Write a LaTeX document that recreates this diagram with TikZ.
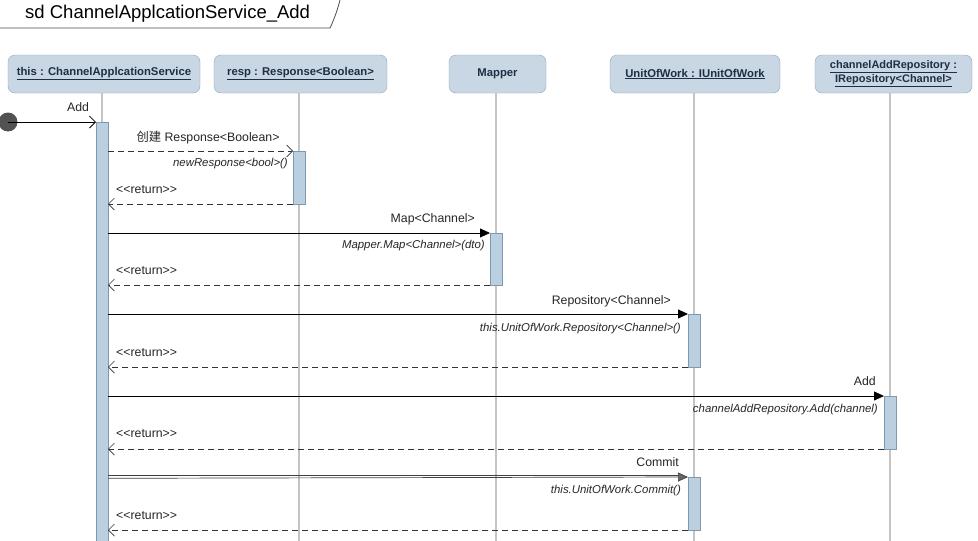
\documentclass[tikz,border=0pt]{standalone}
\usepackage{fontspec}
\setmainfont{Liberation Sans}
\newfontfamily\cjkfont{Noto Sans CJK SC}
\usetikzlibrary{arrows.meta,calc}
\definecolor{headfill}{HTML}{C8D7E3}
\definecolor{headline}{HTML}{8FA7BA}
\definecolor{headtext}{HTML}{1E2F45}
\definecolor{actfill}{HTML}{BACFE0}
\definecolor{actline}{HTML}{7E99AF}
\definecolor{lifegray}{HTML}{C4C4C4}
\tikzset{
  x=1pt,y=-1pt,
  head/.style={draw=headline,fill=headfill,rounded corners=7pt,minimum height=38pt,inner sep=2pt,align=center,font=\fontsize{11.3}{12}\selectfont\bfseries,text=headtext},
  act/.style={draw=actline,fill=actfill,minimum width=12pt,inner sep=0pt,outer sep=0pt,line width=0.8pt},
  life/.style={draw=lifegray,line width=1.2pt},
  callmsg/.style={draw=black,line width=0.8pt,-{Triangle[length=10pt,width=9pt]}},
  createmsg/.style={draw=black!80,line width=0.7pt,dash pattern=on 6pt off 4pt,-{Straight Barb[length=6pt,width=12pt]}},
  retmsg/.style={draw=black!80,line width=0.7pt,dash pattern=on 6pt off 4pt,-{Straight Barb[length=6pt,width=12pt]}},
  foundmsg/.style={draw=black,line width=0.8pt,-{Straight Barb[length=6pt,width=12pt]}},
  commitline/.style={draw=black!75,line width=0.7pt},
  lbl/.style={font=\fontsize{12.3}{13}\selectfont,inner sep=0pt,text=black!85},
  ilbl/.style={font=\fontsize{11.4}{12}\selectfont\itshape,inner sep=0pt,text=black!85},
}
\begin{document}
\begin{tikzpicture}
\useasboundingbox[fill=white] (0,0) rectangle (978,541);
% frame tab
\draw[black!70,line width=0.8pt] (0,28) -- (330,28) .. controls (334,20) and (338,8) .. (340,0);
\node[anchor=west,inner sep=0pt,font=\fontsize{18.5}{20}\selectfont] (title) at (25,14) {sd ChannelApplcationService\_Add};

% heads
\node[head,minimum width=192pt] (h1) at (104,74) {\underline{this : ChannelApplcationService}};
\node[head,minimum width=173pt] (h2) at (300.5,74) {\underline{resp : Response<Boolean>}};
\node[head,minimum width=97pt] (h3) at (497.5,74) {Mapper};
\node[head,minimum width=170pt] (h4) at (695,74) {\underline{UnitOfWork : IUnitOfWork}};
\node[head,minimum width=157pt,font=\fontsize{11}{12}\selectfont\bfseries] (h5) at (893.5,74) {\underline{channelAddRepository :}\\[1pt]\underline{IRepository<Channel>}};

% lifelines
\coordinate (e1) at (102,541);
\coordinate (e2) at (299,541);
\coordinate (e3) at (496,541);
\coordinate (e4) at (694,541);
\coordinate (e5) at (890,541);
\draw[life] (h1.south -| e1) -- (e1);
\draw[life] (h2.south -| e2) -- (e2);
\draw[life] (h3.south -| e3) -- (e3);
\draw[life] (h4.south -| e4) -- (e4);
\draw[life] (h5.south -| e5) -- (e5);

% activations
\node[act,minimum height=421pt,anchor=north] (a1) at (102,122) {};
\node[act,minimum height=53pt,anchor=north] (a2) at (299,151) {};
\node[act,minimum height=52pt,anchor=north] (a3) at (496,233) {};
\node[act,minimum height=53pt,anchor=north] (a4) at (694,314) {};
\node[act,minimum height=53pt,anchor=north] (a5) at (890,396) {};
\node[act,minimum height=53pt,anchor=north] (a6) at (694,477) {};

% found message
\node[circle,fill=black!68,minimum size=19pt,inner sep=0pt] (start) at (8,122) {};
\draw[foundmsg] (start.center) -- (a1.north west);
\node[lbl,anchor=base] (l0) at (78,111) {Add};

% create
\draw[createmsg] (a1.east |- a2.north) -- (a2.north west);
\node[lbl,anchor=base] (l1) at (208,141) {{\cjkfont 创建} Response<Boolean>};
\node[ilbl,anchor=base east] (i1) at (288,166) {newResponse<bool>()};
\draw[retmsg] (a2.south west) -- (a1.east |- a2.south);
\node[lbl,anchor=base west] (r1) at (116,193) {<{}<return>{}>};

% Map
\draw[callmsg] (a1.east |- a3.north) -- (a3.north west);
\node[lbl,anchor=base east] (l2) at (475,222) {Map<Channel>};
\node[ilbl,anchor=base east] (i2) at (485,248) {Mapper.Map<Channel>(dto)};
\draw[retmsg] (a3.south west) -- (a1.east |- a3.south);
\node[lbl,anchor=base west] (r2) at (116,274) {<{}<return>{}>};

% Repository
\draw[callmsg] (a1.east |- a4.north) -- (a4.north west);
\node[lbl,anchor=base east] (l3) at (671,304) {Repository<Channel>};
\node[ilbl,anchor=base east] (i3) at (681,331) {this.UnitOfWork.Repository<Channel>()};
\draw[retmsg] (a4.south west) -- (a1.east |- a4.south);
\node[lbl,anchor=base west] (r3) at (116,356) {<{}<return>{}>};

% Add
\draw[callmsg] (a1.east |- a5.north) -- (a5.north west);
\node[lbl,anchor=base east] (l4) at (876,385) {Add};
\node[ilbl,anchor=base east] (i4) at (878,412) {channelAddRepository.Add(channel)};
\draw[retmsg] (a5.south west) -- (a1.east |- a5.south);
\node[lbl,anchor=base west] (r4) at (116,437) {<{}<return>{}>};

% Commit (double line)
\draw[commitline] ([yshift=1.3pt]a1.east |- a6.north) -- ([yshift=1.3pt,xshift=-6pt]a6.north west);
\draw[commitline,-{Triangle[length=10pt,width=9pt,fill=black!60]}] ([yshift=-1.3pt]a1.east |- a6.north) -- (a6.north west);
\node[lbl,anchor=base east] (l5) at (679,466) {Commit};
\node[ilbl,anchor=base east] (i5) at (681,493) {this.UnitOfWork.Commit()};
\draw[retmsg] (a6.south west) -- (a1.east |- a6.south);
\node[lbl,anchor=base west] (r5) at (116,519) {<{}<return>{}>};
\end{tikzpicture}
\end{document}
